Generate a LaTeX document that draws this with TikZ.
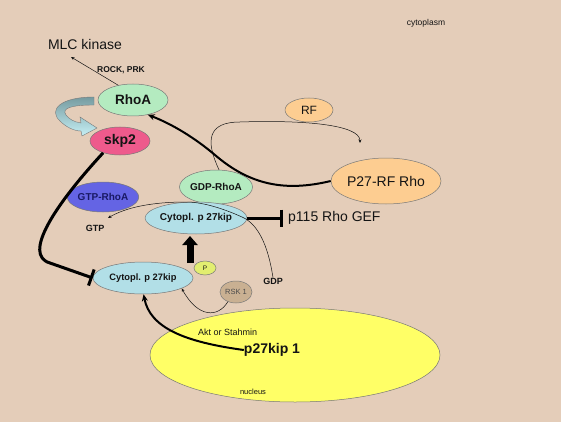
\documentclass[tikz,border=0pt]{standalone}
\usepackage{fontspec}
\setmainfont{Liberation Sans}
\usetikzlibrary{arrows.meta,shapes.geometric}
\definecolor{bg}{RGB}{228,205,185}
\definecolor{rhogreen}{RGB}{180,235,192}
\definecolor{skpink}{RGB}{238,90,140}
\definecolor{gtpblue}{RGB}{100,100,228}
\definecolor{gtptext}{RGB}{25,25,100}
\definecolor{cytblue}{RGB}{178,223,231}
\definecolor{pyellow}{RGB}{226,238,112}
\definecolor{rsktan}{RGB}{201,176,146}
\definecolor{rforange}{RGB}{253,205,145}
\definecolor{nucyellow}{RGB}{255,255,102}
\definecolor{edge}{RGB}{120,120,120}
\definecolor{ink}{RGB}{20,20,20}
\definecolor{blocktop}{RGB}{118,155,160}
\definecolor{blockbot}{RGB}{198,240,245}
\newcommand{\fs}[1]{\fontsize{#1}{#1}\selectfont}
\begin{document}
\begin{tikzpicture}[x=1pt,y=-1pt,
  ell/.style={ellipse, draw=edge, line width=0.5pt, inner sep=0pt, text=ink},
  lbl/.style={inner sep=0pt, text=ink},
  thinarrow/.style={draw=ink, line width=0.5pt, -{Stealth[length=3.5pt,width=3pt]}},
  thickarrow/.style={draw=black, line width=2pt, -{Stealth[length=7pt,width=6pt]}},
  inhib/.style={draw=black, line width=3pt, -{Bar[width=17pt,line width=3pt]}}]
\fill[bg] (0,0) rectangle (561,422);
\useasboundingbox (0,0) rectangle (561,422);

% nucleus
\node[ell, fill=nucyellow, minimum width=290, minimum height=94] (nuc) at (295,355) {};
\node[lbl, font=\fs{7.5}] (nuctext) at (253,392) {nucleus};
\node[lbl, font=\fs{9}, anchor=west] (akt) at (198,332) {Akt or Stahmin};
\node[lbl, font=\bfseries\fs{14}] (p27k1) at (272,350) {p27kip 1};

% labels
\node[lbl, font=\fs{8.5}] (cyto) at (426,23) {cytoplasm};
\node[lbl, font=\fs{14}] (mlc) at (85,44) {MLC kinase};
\node[lbl, font=\bfseries\fs{8.5}] (rock) at (121,70) {ROCK, PRK};

% nodes
\node[ell, fill=rhogreen, minimum width=70, minimum height=32, font=\bfseries\fs{13.5}] (rhoa) at (133,100) {RhoA};
\node[ell, fill=skpink, minimum width=60, minimum height=28, font=\bfseries\fs{14}] (skp2) at (120,141) {skp2};
\node[ell, fill=gtpblue, minimum width=66, minimum height=30, font=\bfseries\fs{10}, text=gtptext] (gtp) at (103,197) {GTP-RhoA};
\node[ell, fill=rhogreen, minimum width=70, minimum height=34, font=\bfseries\fs{10}] (gdp) at (216,187) {GDP-RhoA};
\node[ell, fill=cytblue, minimum width=96, minimum height=32, font=\bfseries\fs{10}] (cyt1) at (196,218) {Cytopl. p 27kip};
\node[ell, fill=cytblue, minimum width=100, minimum height=32, font=\bfseries\fs{9.3}] (cyt2) at (143,278) {Cytopl. p 27kip};
\node[ell, fill=pyellow, minimum width=22, minimum height=14, font=\fs{6.5}] (pp) at (205,268) {P};
\node[ell, fill=rsktan, minimum width=32, minimum height=22, font=\fs{7.5}, text=black!70] (rsk) at (236,292) {RSK 1};
\node[ell, fill=rforange, minimum width=48, minimum height=24, font=\fs{12}] (rf) at (309,110) {RF};
\node[ell, fill=rforange, minimum width=108, minimum height=46, font=\fs{14}] (p27rf) at (386,181) {P27-RF Rho};

\node[lbl, font=\bfseries\fs{9}] (gtplbl) at (95,228) {GTP};
\node[lbl, font=\bfseries\fs{9}] (gdplbl) at (273,281) {GDP};
\node[lbl, font=\fs{14}, anchor=west] (p115) at (288,218) {p115 Rho GEF};

% coordinates for free ends
\coordinate (mlcend) at (71,57);
\coordinate (rfend) at (360,143);
\coordinate (upfrom) at (190,263);
\coordinate (upto) at (190,236);
\coordinate (gtpend) at (108,218);

% curved block arrow RhoA -> skp2
\shade[top color=blocktop, bottom color=blockbot, draw=edge, line width=0.4pt]
  (94,97) .. controls (60,97) and (48,110) .. (60,121)
  .. controls (66,127) and (74,131) .. (81,131)
  -- (82,136) -- (97,128) -- (80,117) -- (81,123)
  .. controls (74,122) and (69,119) .. (66,115)
  .. controls (61,108) and (72,105) .. (94,105) -- cycle;

% connectors
\draw[thinarrow] (rhoa.135) -- (mlcend);
\draw[inhib] (skp2.-145) .. controls (55,205) and (22,255) .. (50,263) -- (cyt2.west);
\draw[inhib] (cyt1.east) -- ([xshift=-5pt]p115.west);
\draw[draw=black, line width=7pt, -{Triangle[width=15pt,length=9pt]}] (upfrom) -- (upto);
\draw[thinarrow] (gdplbl.north) .. controls (268,245) and (258,224) .. (242,217)
  .. controls (222,208) and (202,202) .. (186,202)
  .. controls (150,202) and (125,208) .. (gtpend);
\draw[thinarrow] (gdp.80) .. controls (205,140) and (208,122) .. (240,122)
  .. controls (300,120) and (360,124) .. (rfend);
\draw[thickarrow] (p27rf.west) .. controls (285,192) and (250,185) .. (215,155)
  .. controls (195,138) and (172,124) .. (rhoa.-45);
\draw[thinarrow] (rsk.-130) .. controls (218,318) and (198,318) .. (cyt2.-15);
\draw[thickarrow] (p27k1.west) .. controls (185,342) and (150,328) .. (cyt2.-88);
\end{tikzpicture}
\end{document}
